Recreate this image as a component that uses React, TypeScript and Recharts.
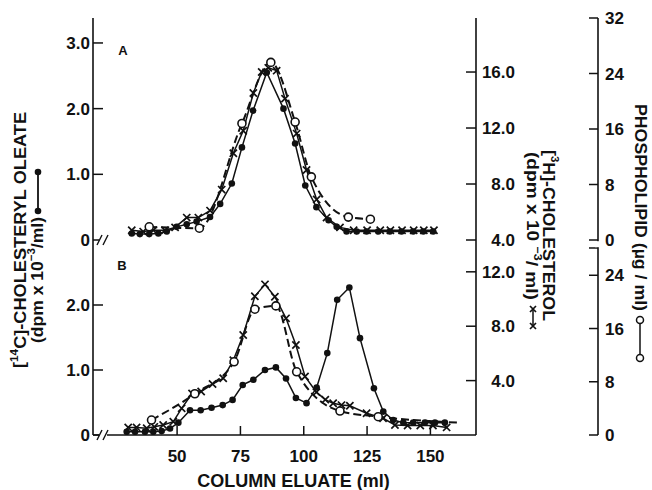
import React from "react";
import { LineChart, Line, XAxis, YAxis, Label } from "recharts";

// fractions (ml of column eluate) and readings, panel A
const aOleateMl = [32.1, 35.3, 39, 42.6, 45.9, 49.8, 53.8, 57.7, 63, 67, 71.6, 75.6, 80, 85.4, 92, 96.6, 100.6, 105, 109.8, 113, 116.9, 120.9, 124.8, 129.4, 134, 138.6, 143.2, 147.2, 151.1];
const aOleate = [0.1, 0.09, 0.09, 0.1, 0.13, 0.2, 0.24, 0.28, 0.35, 0.55, 0.86, 1.41, 1.97, 2.55, 2.0, 1.47, 0.83, 0.5, 0.3, 0.2, 0.13, 0.13, 0.13, 0.13, 0.13, 0.13, 0.13, 0.13, 0.13];
const aCholMl = [32.1, 36.6, 40.6, 45.2, 49.2, 53.8, 58.4, 63, 67.6, 72.2, 76.1, 80.1, 83.4, 86, 89.3, 92.6, 97.2, 101.1, 105.1, 109, 114.3, 119.7, 125, 130.2, 134.2, 138.8, 143.4, 147.4, 151.4];
const aChol = [4.7, 4.6, 4.7, 4.7, 4.9, 5.6, 5.6, 6.1, 7.6, 10.2, 11.8, 14.5, 16.0, 16.3, 16.1, 14.1, 11.6, 9.0, 6.9, 5.6, 4.9, 4.7, 4.7, 4.7, 4.7, 4.7, 4.7, 4.7, 4.7];
const aPhosMl = [39, 58.8, 75.6, 87, 96.6, 103, 117.6, 126.3];
const aPhos = [1.9, 1.7, 16.8, 25.6, 17.0, 9.1, 3.3, 3.0];

// panel B
const bOleateMl = [30.1, 33.4, 37.3, 40.6, 43.9, 47.2, 50.5, 55.1, 59.3, 63.6, 68, 71.9, 75.9, 80.1, 84.7, 89, 93, 96.9, 101.1, 105.1, 109.3, 113.2, 118, 122.2, 127.7, 131.4, 135.3, 139.3, 143.2, 147.8, 151.8, 155.7];
const bOleate = [0.05, 0.05, 0.05, 0.05, 0.06, 0.1, 0.19, 0.38, 0.38, 0.42, 0.46, 0.54, 0.77, 0.85, 1.0, 1.04, 0.87, 0.57, 0.49, 0.73, 1.26, 2.08, 2.27, 1.49, 0.72, 0.36, 0.23, 0.19, 0.19, 0.19, 0.19, 0.19];
const bCholMl = [30.7, 34, 38, 41, 44.5, 48.5, 51.8, 55.9, 59.5, 64, 68.2, 72.2, 76.1, 80.7, 84.7, 88.6, 93, 96.9, 100.5, 105, 108.5, 111.6, 114.9, 118.2, 124.8, 131.3, 136, 141, 146, 151, 156.4];
const bChol = [0.56, 0.56, 0.5, 0.6, 0.74, 0.98, 1.96, 3.05, 3.2, 3.75, 4.17, 5.5, 7.35, 10.2, 11.08, 10.17, 8.58, 6.62, 4.3, 3.15, 2.6, 2.33, 2.2, 2.15, 1.6, 1.23, 0.74, 0.7, 0.7, 0.7, 0.56];
const bPhosMl = [39.9, 57, 72.5, 80.7, 89, 97.2, 114.3, 129.4, 161.5];
const bPhos = [2.25, 6.2, 11.0, 18.9, 19.4, 9.5, 3.6, 2.75, 1.85];

const xTicks = [50, 75, 100, 125, 150];
const oleateTicksA = [0, 1, 2, 3];
const oleateTicksB = [0, 1, 2];
const cholTicksA = [4, 8, 12, 16];
const cholTicksB = [4, 8, 12];
const phosTicksA = [0, 8, 16, 24, 32];
const phosTicksB = [0, 8, 16, 24, 28.1]; // top bracket has no label

const zip = (xs: number[], ys: number[]) => xs.map((ml, i) => ({ ml, v: ys[i] }));

const FONT = '"Liberation Sans", Arial, Helvetica, sans-serif';
const INK = "#111";
const X_DOMAIN = [16.8, 168];

const txt = { fontFamily: FONT, fontWeight: 700, fontSize: 17, fill: INK };

const FilledDot = (p: any) => (
  <circle key={p.key ?? `f${p.index}`} cx={p.cx} cy={p.cy} r={3.3} fill={INK} />
);
const CrossDot = (p: any) => {
  const s = 3.6;
  return (
    <path
      key={p.key ?? `x${p.index}`}
      d={`M${p.cx - s},${p.cy - s}L${p.cx + s},${p.cy + s}M${p.cx - s},${p.cy + s}L${p.cx + s},${p.cy - s}`}
      stroke={INK}
      strokeWidth={1.7}
      fill="none"
    />
  );
};
const openDot = (skip: number) => (p: any) =>
  p.index === skip ? (
    <g key={p.key ?? `o${p.index}`} />
  ) : (
    <circle key={p.key ?? `o${p.index}`} cx={p.cx} cy={p.cy} r={4} fill="#fff" stroke={INK} strokeWidth={1.6} />
  );

const LeftTick = (p: any) => (
  <g>
    <line x1={p.x} x2={p.x + 10} y1={p.y} y2={p.y} stroke={INK} strokeWidth={1.5} />
    <text x={p.x - 3} y={p.y} dy="0.36em" textAnchor="end" style={txt}>
      {p.payload.value === 0 ? "0" : p.payload.value.toFixed(1)}
    </text>
  </g>
);
const CholTick = (p: any) => (
  <g>
    <line x1={p.x - 10} x2={p.x} y1={p.y} y2={p.y} stroke={INK} strokeWidth={1.5} />
    <text x={p.x + 39} y={p.y} dy="0.36em" textAnchor="end" style={txt}>
      {p.payload.value.toFixed(1)}
    </text>
  </g>
);
const PhosTick = (p: any) => (
  <g>
    <line x1={p.x - 9} x2={p.x} y1={p.y} y2={p.y} stroke={INK} strokeWidth={1.5} />
    {p.payload.value % 8 === 0 && (
      <text x={p.x + 7} y={p.y} dy="0.36em" textAnchor="start" style={txt}>
        {p.payload.value}
      </text>
    )}
  </g>
);
const BottomTick = (p: any) => (
  <g>
    <line x1={p.x} x2={p.x} y1={p.y} y2={p.y - 9} stroke={INK} strokeWidth={1.5} />
    <text x={p.x} y={p.y + 21} dy="0.36em" textAnchor="middle" style={txt}>
      {p.payload.value}
    </text>
  </g>
);
const TopTick = (p: any) => (
  <line x1={p.x} x2={p.x} y1={p.y} y2={p.y + 10} stroke={INK} strokeWidth={1.5} />
);

const axisLine = { stroke: INK, strokeWidth: 1.6 };

function Panel(props: {
  top: number;
  height: number;
  margin: { top: number; right: number; bottom: number; left: number };
  oleate: { ml: number; v: number }[];
  chol: { ml: number; v: number }[];
  phos: { ml: number; v: number }[];
  oleateDomain: number[];
  cholDomain: number[];
  phosDomain: number[];
  oleateTicks: number[];
  cholTicks: number[];
  phosTicks: number[];
  lower: boolean;
}) {
  const p = props;
  return (
    <div style={{ position: "absolute", left: 0, top: p.top }}>
      <LineChart width={652} height={p.height} margin={p.margin}>
        <XAxis
          xAxisId="b"
          type="number"
          dataKey="ml"
          domain={X_DOMAIN}
          allowDataOverflow
          ticks={xTicks}
          interval={0}
          hide={!p.lower}
          height={p.lower ? 55 : 0}
          axisLine={axisLine}
          tickLine={false}
          tickSize={0}
          tickMargin={0}
          tick={<BottomTick />}
        >
          {p.lower && (
            <Label
              value="COLUMN ELUATE (ml)"
              position="insideBottom"
              offset={3}
              dx={9}
              style={{ ...txt, fontSize: 18 }}
            />
          )}
        </XAxis>
        <XAxis
          xAxisId="t"
          orientation="top"
          type="number"
          dataKey="ml"
          domain={X_DOMAIN}
          allowDataOverflow
          ticks={xTicks}
          interval={0}
          height={0}
          axisLine={axisLine}
          tickLine={false}
          tickSize={0}
          tickMargin={0}
          tick={p.lower ? <TopTick /> : false}
        />
        <YAxis
          yAxisId="oleate"
          orientation="left"
          width={93}
          type="number"
          domain={p.oleateDomain}
          allowDataOverflow
          ticks={p.oleateTicks}
          interval={0}
          axisLine={axisLine}
          tickLine={false}
          tickSize={0}
          tickMargin={0}
          tick={<LeftTick />}
        />
        <YAxis
          yAxisId="chol"
          orientation="right"
          width={122}
          type="number"
          domain={p.cholDomain}
          allowDataOverflow
          ticks={p.cholTicks}
          interval={0}
          axisLine={axisLine}
          tickLine={false}
          tickSize={0}
          tickMargin={0}
          tick={<CholTick />}
        />
        <YAxis
          yAxisId="phos"
          orientation="right"
          width={54}
          type="number"
          domain={p.phosDomain}
          allowDataOverflow
          ticks={p.phosTicks}
          interval={0}
          axisLine={axisLine}
          tickLine={false}
          tickSize={0}
          tickMargin={0}
          tick={<PhosTick />}
        />
        <Line
          xAxisId="b"
          yAxisId="chol"
          data={p.chol}
          dataKey="v"
          type="linear"
          stroke={INK}
          strokeWidth={1.5}
          dot={CrossDot}
          isAnimationActive={false}
        />
        <Line
          xAxisId="b"
          yAxisId="oleate"
          data={p.oleate}
          dataKey="v"
          type="linear"
          stroke={INK}
          strokeWidth={1.5}
          dot={FilledDot}
          isAnimationActive={false}
        />
        <Line
          xAxisId="b"
          yAxisId="phos"
          data={p.phos}
          dataKey="v"
          type="monotone"
          stroke={INK}
          strokeWidth={2}
          strokeDasharray="8 4"
          dot={openDot(p.lower ? p.phos.length - 1 : -1)}
          isAnimationActive={false}
        />
      </LineChart>
    </div>
  );
}

function Overlay() {
  const breaks = [240, 435];
  return (
    <svg
      width={652}
      height={490}
      style={{ position: "absolute", left: 0, top: 0, pointerEvents: "none" }}
    >
      {breaks.map((y) => (
        <g key={y}>
          <rect x={99} y={y - 2} width={8} height={4} fill="#fff" />
          <line x1={97} y1={y + 5} x2={102} y2={y - 5} stroke={INK} strokeWidth={1.4} />
          <line x1={103} y1={y + 5} x2={108} y2={y - 5} stroke={INK} strokeWidth={1.4} />
        </g>
      ))}
      {/* gap between the two phospholipid scales */}
      <rect x={595} y={241.2} width={5} height={6} fill="#fff" />

      <text x={123} y={50} dy="0.36em" textAnchor="middle" style={{ ...txt, fontSize: 13 }}>A</text>
      <text x={122} y={265} dy="0.36em" textAnchor="middle" style={{ ...txt, fontSize: 13 }}>B</text>

      {/* left title */}
      <text
        transform="translate(19.5,240) rotate(-90)"
        textAnchor="middle"
        dominantBaseline="central"
        textLength={256}
        lengthAdjust="spacingAndGlyphs"
        style={txt}
      >
        [<tspan dy={-6} fontSize={11}>14</tspan>
        <tspan dy={6}>C]-CHOLESTERYL OLEATE</tspan>
      </text>
      <text
        transform="translate(37,280) rotate(-90)"
        textAnchor="middle"
        dominantBaseline="central"
        textLength={126}
        lengthAdjust="spacingAndGlyphs"
        style={txt}
      >
        (dpm x 10<tspan dy={-6} fontSize={11}>−3</tspan>
        <tspan dy={6}>/ml)</tspan>
      </text>
      <line x1={38} x2={38} y1={172} y2={211} stroke={INK} strokeWidth={1.8} />
      <circle cx={38} cy={172} r={3.3} fill={INK} />
      <circle cx={38} cy={211} r={3.3} fill={INK} />

      {/* cholesterol title */}
      <text
        transform="translate(549,235.5) rotate(90)"
        textAnchor="middle"
        dominantBaseline="central"
        textLength={171}
        lengthAdjust="spacingAndGlyphs"
        style={txt}
      >
        [<tspan dy={-6} fontSize={11}>3</tspan>
        <tspan dy={6}>H]-CHOLESTEROL</tspan>
      </text>
      <text
        transform="translate(532,226) rotate(90)"
        textAnchor="middle"
        dominantBaseline="central"
        textLength={148}
        lengthAdjust="spacingAndGlyphs"
        style={txt}
      >
        (dpm x 10 <tspan dy={-6} fontSize={11}>−3</tspan>
        <tspan dy={6}>/ ml)</tspan>
      </text>
      <line x1={533} x2={533} y1={309} y2={326} stroke={INK} strokeWidth={1.5} />
      <path d="M530,306L536,312M530,312L536,306M530,323L536,329M530,329L536,323" stroke={INK} strokeWidth={1.7} />

      {/* phospholipid title */}
      <text
        transform="translate(640,207.5) rotate(90)"
        textAnchor="middle"
        dominantBaseline="central"
        textLength={207}
        lengthAdjust="spacingAndGlyphs"
        style={txt}
      >
        PHOSPHOLIPID (µg / ml)
      </text>
      <line x1={640} x2={640} y1={320} y2={358} stroke={INK} strokeWidth={1.5} />
      <circle cx={640} cy={320} r={3.5} fill="#fff" stroke={INK} strokeWidth={1.5} />
      <circle cx={640} cy={358} r={3.5} fill="#fff" stroke={INK} strokeWidth={1.5} />
    </svg>
  );
}

export default function App() {
  return (
    <div
      style={{
        position: "absolute",
        left: 0,
        top: 0,
        width: 652,
        height: 490,
        background: "#fff",
        overflow: "hidden",
      }}
    >
      <Panel
        top={0}
        height={250}
        margin={{ top: 18, right: 0, bottom: 10, left: 0 }}
        oleate={zip(aOleateMl, aOleate)}
        chol={zip(aCholMl, aChol)}
        phos={zip(aPhosMl, aPhos)}
        oleateDomain={[0, 3.38]}
        cholDomain={[4, 19.86]}
        phosDomain={[0, 32]}
        oleateTicks={oleateTicksA}
        cholTicks={cholTicksA}
        phosTicks={phosTicksA}
        lower={false}
      />
      <Panel
        top={230}
        height={260}
        margin={{ top: 10, right: 0, bottom: 0, left: 0 }}
        oleate={zip(bOleateMl, bOleate)}
        chol={zip(bCholMl, bChol)}
        phos={zip(bPhosMl, bPhos)}
        oleateDomain={[0, 3.0]}
        cholDomain={[0, 14.34]}
        phosDomain={[0, 29.3]}
        oleateTicks={oleateTicksB}
        cholTicks={cholTicksB}
        phosTicks={phosTicksB}
        lower={true}
      />
      <Overlay />
    </div>
  );
}
